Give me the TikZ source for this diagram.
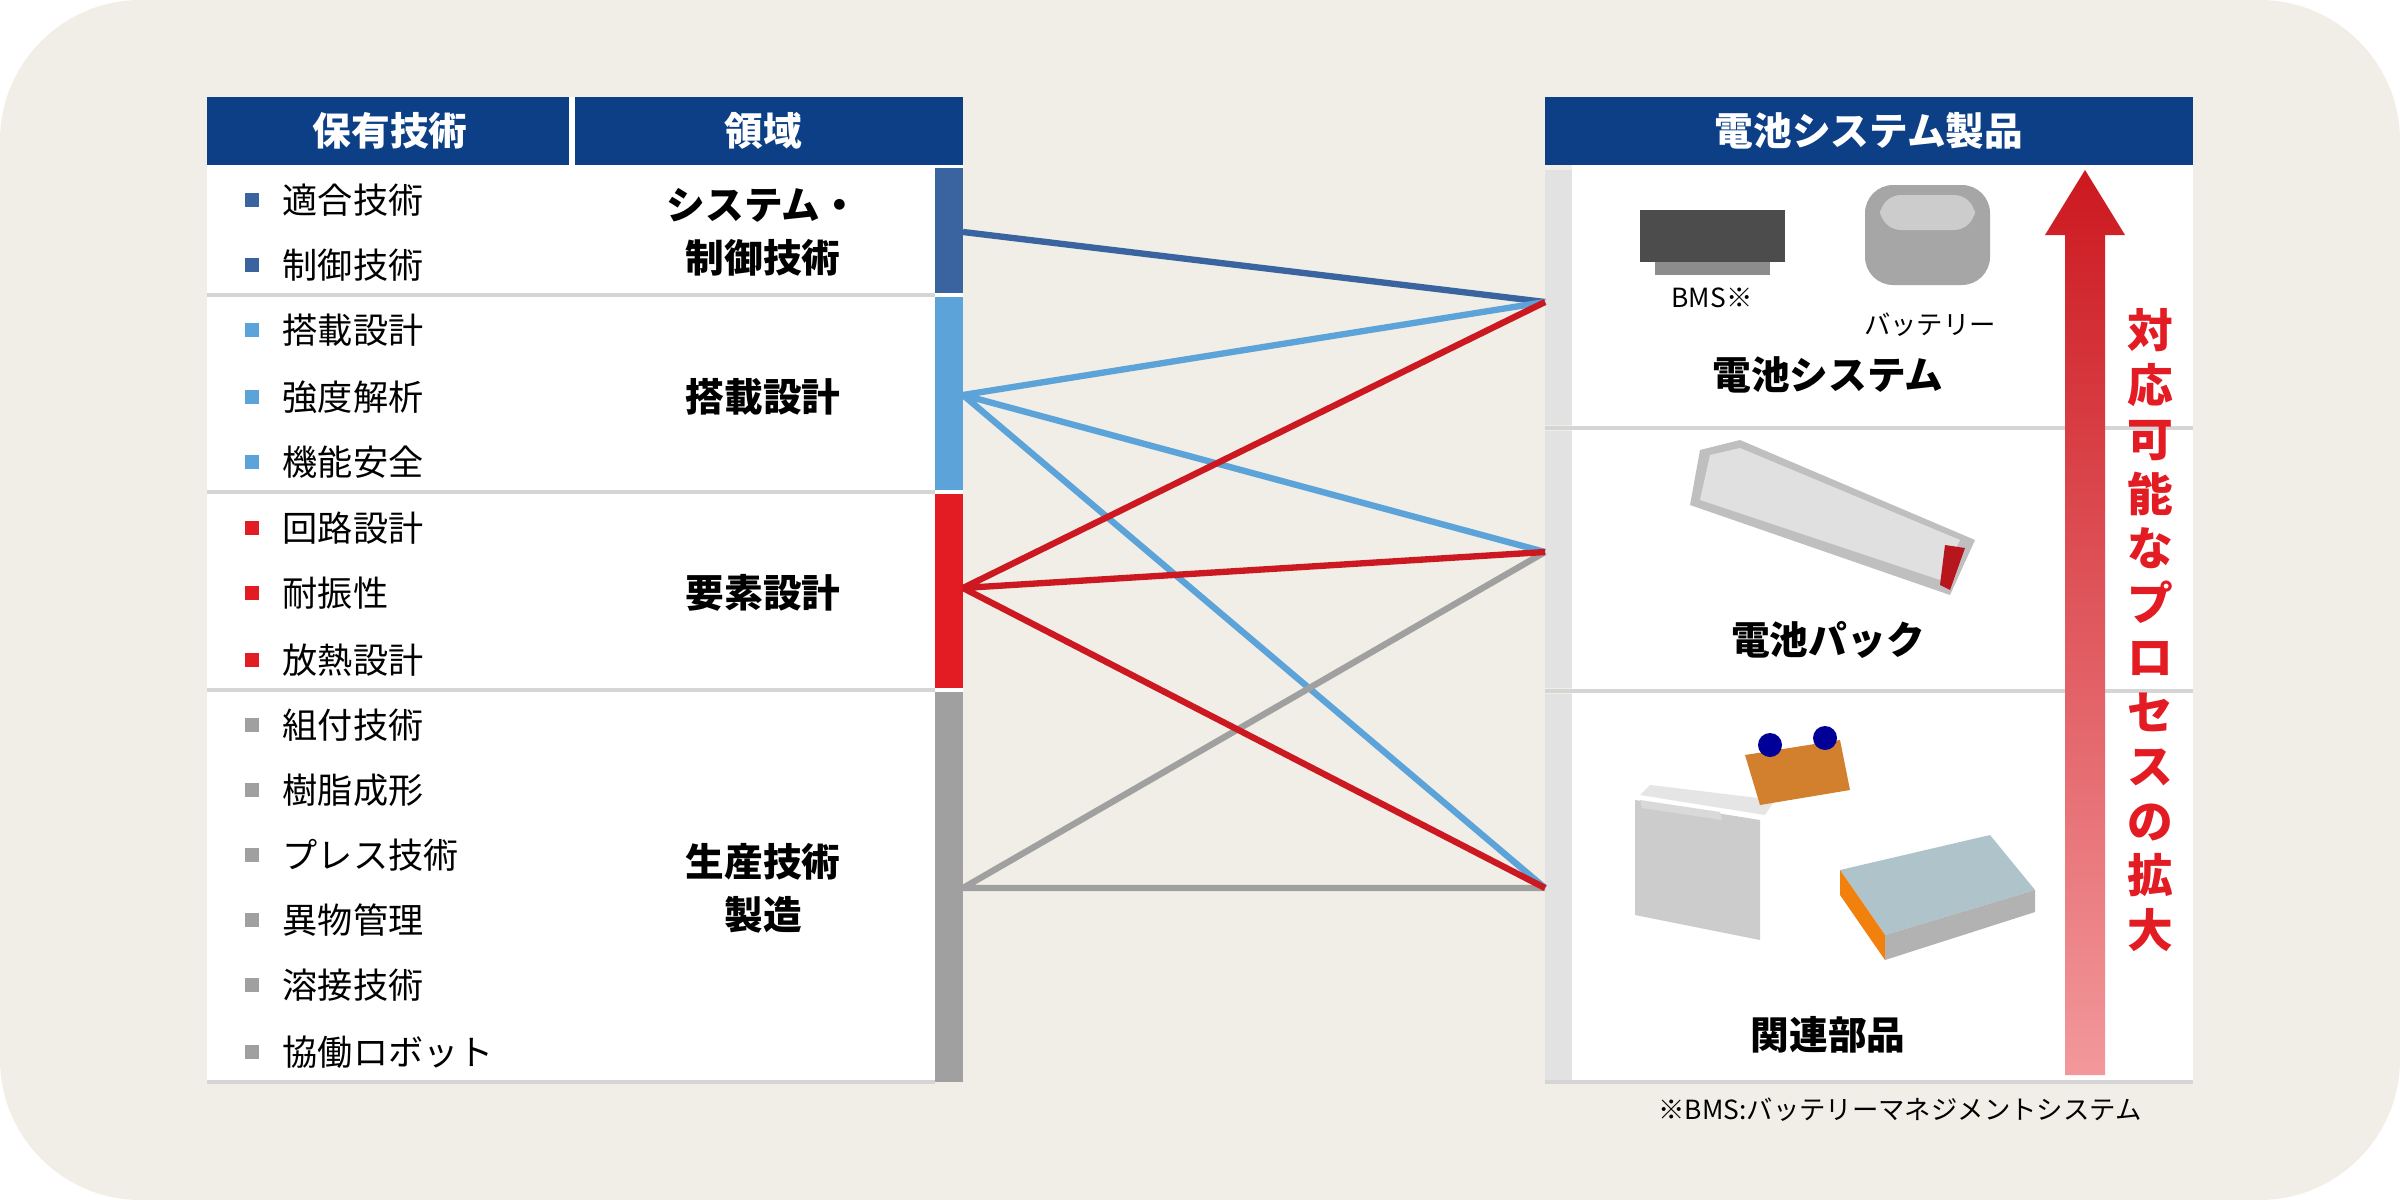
\documentclass[tikz,border=0pt]{standalone}
\usepackage{fontspec}
\setmainfont{Noto Sans CJK JP}
\usepackage{tikz}
\usetikzlibrary{positioning}
\definecolor{bgbeige}{HTML}{F0EEE6}
\definecolor{hdrblue}{HTML}{0D3F86}
\definecolor{sysblue}{HTML}{3A64A0}
\definecolor{mntblue}{HTML}{5BA3D8}
\definecolor{elmred}{HTML}{E31B23}
\definecolor{prdgray}{HTML}{A0A0A0}
\definecolor{sepgray}{HTML}{D5D5D5}
\tikzset{
  hdr/.style={font=\bfseries\fontsize{11pt}{13pt}\selectfont, text=white},
  item/.style={anchor=west, font=\fontsize{10pt}{12pt}\selectfont, inner sep=0pt},
  area/.style={font=\bfseries\fontsize{11pt}{15pt}\selectfont, align=center},
  prod/.style={font=\bfseries\fontsize{11pt}{13pt}\selectfont},
  link/.style={line width=1.8pt}
}
\newcommand\ItemGroup[3]{% color, y list, names
  \foreach \yy/\txt in {#2} {
    \fill[#1] (245,\yy-7) rectangle (259,\yy+7);
    \node[item] at (282,\yy) {\txt};
  }
}
\begin{document}
\begin{tikzpicture}[x=0.01cm, y=-0.01cm]
\useasboundingbox (0,0) rectangle (2400,1200);
\fill[bgbeige] (0,0) [rounded corners=40pt] rectangle (2400,1200);

% left table
\fill[white] (207,165) rectangle (963,1082);
\fill[hdrblue] (207,97) rectangle (963,165);
\draw[white, line width=1.5pt] (572,97) -- (572,165);
\node[hdr] (hskill) at (390,131) {保有技術};
\node[hdr] (harea) at (763,131) {領域};
\foreach \ys in {295,492,690,1082}
  \draw[sepgray, line width=1.2pt] (207,\ys) -- (935,\ys);

\fill[sysblue] (935,168) rectangle (963,293);
\fill[mntblue] (935,297) rectangle (963,490);
\fill[elmred] (935,494) rectangle (963,688);
\fill[prdgray] (935,692) rectangle (963,1082);

\ItemGroup{sysblue}{200/適合技術,265/制御技術}{}
\ItemGroup{mntblue}{330/搭載設計,397/強度解析,462/機能安全}{}
\ItemGroup{elmred}{528/回路設計,593/耐振性,660/放熱設計}{}
\ItemGroup{prdgray}{725/組付技術,790/樹脂成形,855/プレス技術,920/異物管理,985/溶接技術,1052/協働ロボット}{}

\node[area] (asys) at (763,232) {システム・\\制御技術};
\node[area] (amnt) at (763,397) {搭載設計};
\node[area] (aelm) at (763,593) {要素設計};
\node[area] (aprd) at (763,888) {生産技術\\製造};

% right table
\fill[white] (1572,165) rectangle (2193,1082);
\fill[hdrblue] (1545,97) rectangle (2193,165);
\node[hdr] (hprod) at (1869,131) {電池システム製品};
\fill[sepgray!70] (1545,170) rectangle (1572,425);
\fill[sepgray!70] (1545,431) rectangle (1572,688);
\fill[sepgray!70] (1545,694) rectangle (1572,1082);
\foreach \ys in {428,691}
  \draw[sepgray, line width=1.2pt] (1545,\ys) -- (2193,\ys);
\draw[sepgray, line width=1.2pt] (1545,1082) -- (2193,1082);

% product pictures (simplified)
\fill[black!70] (1640,210) rectangle (1785,262);
\fill[black!45] (1655,262) rectangle (1770,275);
\node[font=\fontsize{7.5pt}{9pt}\selectfont] (lbms) at (1712,298) {BMS※};
\fill[black!35, rounded corners=8pt] (1865,185) rectangle (1990,285);
\fill[black!20, rounded corners=6pt] (1880,195) rectangle (1975,230);
\node[font=\fontsize{7.5pt}{9pt}\selectfont] (lbat) at (1930,325) {バッテリー};
\fill[black!25] (1700,450) -- (1740,440) -- (1975,540) -- (1950,595) -- (1690,505) -- cycle;
\fill[black!12] (1710,455) -- (1740,448) -- (1960,540) -- (1940,580) -- (1700,500) -- cycle;
\fill[elmred!80!black] (1945,545) -- (1965,548) -- (1950,590) -- (1940,585) -- cycle;
\fill[black!20] (1635,800) -- (1760,820) -- (1760,940) -- (1635,915) -- cycle;
\fill[black!10] (1640,795) -- (1765,815) -- (1775,800) -- (1650,785) -- cycle;
\fill[black!15] (1640,800) -- (1720,812) -- (1722,820) -- (1642,808) -- cycle;
\fill[brown!70!orange] (1745,755) -- (1840,740) -- (1850,790) -- (1760,805) -- cycle;
\fill[blue!60!black] (1770,745) circle (12);
\fill[blue!60!black] (1825,738) circle (12);
\fill[cyan!25!gray!60] (1840,870) -- (1990,835) -- (2035,890) -- (1885,935) -- cycle;
\fill[orange!80!brown] (1840,870) -- (1885,935) -- (1885,960) -- (1840,895) -- cycle;
\fill[gray!60] (1885,935) -- (2035,890) -- (2035,912) -- (1885,960) -- cycle;

\node[prod] (psys) at (1828,375) {電池システム};
\node[prod] (ppack) at (1828,640) {電池パック};
\node[prod] (pparts) at (1828,1035) {関連部品};

% arrow
\shade[top color=elmred!90!black, bottom color=elmred!45] (2065,1075) -- (2065,235) -- (2045,235) -- (2085,170) -- (2125,235) -- (2105,235) -- (2105,1075) -- cycle;
\node[font=\bfseries\fontsize{13pt}{15.5pt}\selectfont, text=elmred, align=center, inner sep=0pt] (grow) at (2150,630)
  {対\\応\\可\\能\\な\\プ\\ロ\\セ\\ス\\の\\拡\\大};
\node[font=\fontsize{7.5pt}{9pt}\selectfont] (note) at (1900,1110) {※BMS:バッテリーマネジメントシステム};

% connectors
\coordinate (Lsys) at (963,232);
\coordinate (Lmnt) at (963,395);
\coordinate (Lelm) at (963,588);
\coordinate (Lprd) at (963,888);
\coordinate (Rsys) at (1545,302);
\coordinate (Rpack) at (1545,552);
\coordinate (Rparts) at (1545,888);
\draw[link, sysblue] (Lsys) -- (Rsys);
\draw[link, mntblue] (Lmnt) -- (Rsys) (Lmnt) -- (Rpack) (Lmnt) -- (Rparts);
\draw[link, prdgray] (Lprd) -- (Rpack) (Lprd) -- (Rparts);
\draw[link, elmred!90!black] (Lelm) -- (Rsys) (Lelm) -- (Rpack) (Lelm) -- (Rparts);
\end{tikzpicture}
\end{document}
